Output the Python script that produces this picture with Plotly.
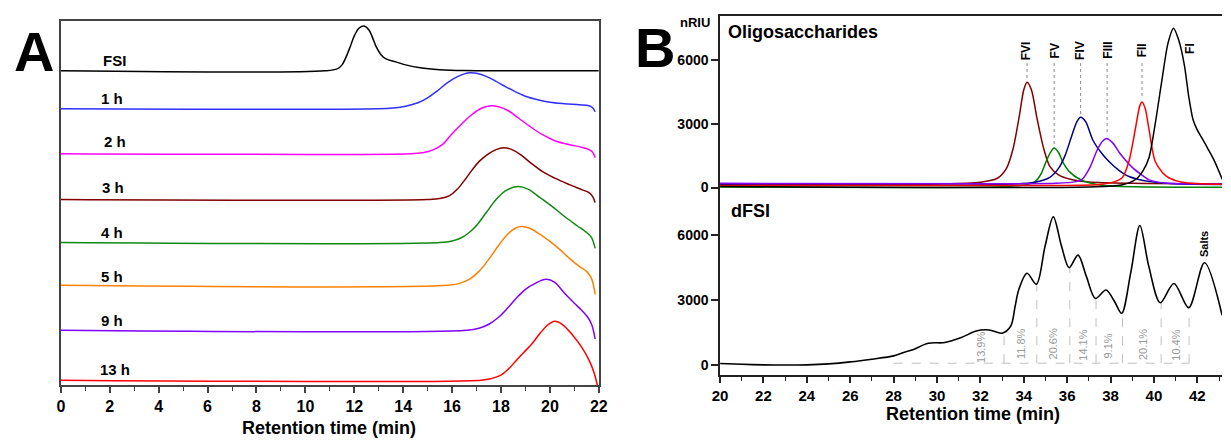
import numpy as np
import plotly.graph_objects as go

FONT = "Liberation Sans, Arial, sans-serif"

# ---------------- Panel A data (retention time, relative signal) ----------------
a_labels = ["FSI", "1 h", "2 h", "3 h", "4 h", "5 h", "9 h", "13 h"]
a_colors = ["#000000", "#2f2fff", "#ff00ff", "#800000", "#118811", "#ff8000", "#8000ff", "#ff0000"]
a_offsets = [315, 277, 232, 186, 143, 100, 55, 5]

a_t = [
    [0, 10.8, 11.3, 11.5, 11.8, 12.0, 12.2, 12.4, 12.6, 12.8, 12.9, 13.1, 13.3, 13.7, 14.1, 14.7, 15.5, 16.5, 22],
    [0, 13.0, 13.6, 14.1, 14.6, 15.0, 15.4, 15.8, 16.2, 16.5, 16.75, 17.0, 17.4, 17.8, 18.2, 18.6, 19.0, 19.5, 20.0, 20.6, 21.2, 21.6, 21.75, 21.85],
    [0, 14.3, 14.8, 15.2, 15.6, 16.0, 16.4, 16.8, 17.2, 17.6, 17.9, 18.3, 18.7, 19.2, 19.7, 20.2, 20.8, 21.3, 21.6, 21.75, 21.85],
    [0, 15.0, 15.5, 15.9, 16.2, 16.5, 16.8, 17.1, 17.5, 17.8, 18.1, 18.4, 18.8, 19.2, 19.7, 20.2, 20.8, 21.3, 21.6, 21.75, 21.85],
    [0, 15.5, 16.0, 16.4, 16.7, 17.0, 17.4, 17.8, 18.2, 18.7, 19.1, 19.6, 20.1, 20.6, 21.1, 21.5, 21.7, 21.85],
    [0, 15.8, 16.3, 16.7, 17.1, 17.5, 17.9, 18.3, 18.6, 18.85, 19.2, 19.6, 20.0, 20.4, 20.8, 21.2, 21.5, 21.7, 21.85],
    [0, 16.6, 17.1, 17.5, 17.9, 18.3, 18.7, 19.0, 19.4, 19.85, 20.2, 20.6, 21.0, 21.3, 21.55, 21.72, 21.85],
    [0, 17.2, 17.6, 18.0, 18.3, 18.6, 18.9, 19.25, 19.6, 19.9, 20.2, 20.5, 20.9, 21.3, 21.6, 21.8, 21.95],
]
a_h = [
    [0, 0, 2, 6, 22, 35, 43, 45, 41, 30, 24, 16, 12, 9, 6, 3, 1.2, 0.4, 0],
    [0, 0, 0.8, 2.5, 6, 11, 18, 26, 32, 35, 36, 35.5, 32.5, 27.5, 22, 17, 12.5, 9, 6.5, 5, 4, 3, 1, -3],
    [0, 0, 1, 3.5, 9, 20, 30, 39, 45.5, 48, 47, 43, 36, 27, 19, 13, 9, 6.5, 4, 1.5, -4],
    [0, 0, 1, 4, 10, 19, 29, 38, 46, 50, 52, 50.5, 45, 37, 28, 21.5, 15, 10, 7, 3, -3],
    [0, 0, 1.5, 5, 10, 17, 30, 43, 52, 56, 53.5, 45, 36, 26, 17, 10, 5, -6],
    [0, 0, 2, 6, 14, 26, 40, 52, 57.5, 59, 57, 51, 44, 36, 27, 19, 14, 7, -9],
    [0, 0, 2, 6, 13, 23, 34, 41, 47, 51, 48, 37, 27, 20, 13, 5, -9],
    [0, 0, 1.5, 5, 11, 19, 27, 36, 47, 55, 59, 56, 46, 33, 20, 8, -6],
]
a_label_x = [2.2, 2.1, 2.2, 2.15, 2.1, 2.1, 2.1, 2.2]
a_label_y = [325, 287, 244, 198, 153, 109, 65, 16]

# ---------------- Panel B top: oligosaccharide fractions ----------------
frac_names = ["FVI", "FV", "FIV", "FIII", "FII", "FI"]
frac_colors = ["#800000", "#008000", "#000080", "#8000ff", "#ff0000", "#000000"]
frac_t = [
    [20, 30, 32, 32.8, 33.2, 33.5, 33.8, 34.0, 34.15, 34.35, 34.6, 34.9, 35.2, 35.6, 36.2, 37, 39, 43.2],
    [20, 33, 34.0, 34.5, 34.8, 35.0, 35.2, 35.4, 35.6, 35.8, 36.1, 36.6, 37.2, 38, 43.2],
    [20, 33, 34.5, 35.2, 35.6, 35.9, 36.2, 36.45, 36.62, 36.85, 37.2, 37.6, 37.95, 38.4, 38.85, 39.8, 41, 43.2],
    [20, 33, 35.5, 36.4, 36.7, 37.05, 37.4, 37.65, 37.84, 38.1, 38.4, 39.0, 39.5, 39.8, 40.5, 43.2],
    [20, 34, 37.5, 38.2, 38.55, 38.85, 39.15, 39.35, 39.45, 39.6, 39.76, 40.05, 40.4, 40.7, 41.3, 43.2],
    [20, 37, 38.5, 39.15, 39.5, 39.77, 40.05, 40.36, 40.65, 40.9, 41.15, 41.4, 41.6, 41.8, 42.0, 42.2, 42.5, 42.8, 43.15],
]
frac_v = [
    [180, 170, 250, 450, 900, 1800, 3400, 4600, 4950, 4600, 3300, 1900, 1000, 600, 380, 260, 200, 180],
    [30, 40, 120, 260, 650, 1150, 1600, 1860, 1650, 1200, 750, 380, 180, 80, 20],
    [130, 140, 250, 480, 900, 1500, 2400, 3100, 3300, 3100, 2200, 1600, 1200, 800, 520, 280, 180, 150],
    [200, 180, 200, 280, 400, 950, 1800, 2200, 2300, 2100, 1650, 950, 550, 350, 220, 170],
    [100, 100, 150, 280, 480, 1250, 2800, 3850, 4020, 3700, 2800, 1250, 700, 450, 250, 150],
    [50, 30, 120, 380, 800, 1400, 2950, 5000, 6800, 7490, 6900, 5770, 4300, 3200, 2700, 2350, 1800, 1220, 380],
]
frac_label_x = [34.12, 35.44, 36.62, 37.9, 39.45, 41.65]
frac_label_y = [6420, 6400, 6450, 6450, 6450, 6550]

# ---------------- Panel B bottom: dFSI ----------------
dfsi_t = [20, 21, 22, 23, 24, 25, 26, 27, 28, 28.5, 28.85, 29.6, 30.36, 31.12, 31.8, 32.4, 33.0, 33.4,
          33.6, 33.77, 34.15, 34.58, 34.98, 35.36, 35.74, 36.09, 36.5, 36.88, 37.3, 37.79, 38.17, 38.51,
          38.93, 39.35, 39.76, 40.29, 40.92, 41.6, 42.33, 43.14]
dfsi_v = [78, 40, 15, 5, 15, 60, 150, 277, 430, 600, 700, 1015, 1045, 1275, 1580, 1630, 1480, 1810,
          2720, 3500, 4250, 3740, 5500, 6860, 5500, 4510, 5090, 4120, 3090, 3480, 2970, 2400,
          4280, 6460, 4580, 2890, 3780, 2660, 4740, 2310]
cut_t = [33.09, 34.6, 36.12, 37.33, 38.55, 40.33, 41.62]
pct_labels = ["13.9%", "11.8%", "20.6%", "14.1%", "9.1%", "20.1%", "10.4%"]
pct_x = [32.06, 33.85, 35.36, 36.73, 37.9, 39.49, 41.0]
pct_y = [830, 1000, 970, 900, 880, 970, 930]
cut_base = 90
cut_start = 28.0

fig = go.Figure()

# Panel A traces
for lab, col, off, t, h in zip(a_labels, a_colors, a_offsets, a_t, a_h):
    fig.add_trace(go.Scatter(x=t, y=[off + v for v in h], mode="lines",
                             line=dict(color=col, width=1.5, shape="spline", smoothing=1.0),
                             xaxis="x", yaxis="y", showlegend=False, hoverinfo="skip"))

# Panel B top traces
for name, col, t, v in zip(frac_names, frac_colors, frac_t, frac_v):
    fig.add_trace(go.Scatter(x=t, y=v, mode="lines",
                             line=dict(color=col, width=1.5, shape="spline", smoothing=0.8),
                             xaxis="x2", yaxis="y2", showlegend=False, hoverinfo="skip"))

# dotted guide lines from labels to peaks (FVI..FII)
for i in range(5):
    pk = int(np.argmax(frac_v[i]))
    fig.add_trace(go.Scatter(x=[frac_t[i][pk], frac_t[i][pk]], y=[5850, frac_v[i][pk] + 150], mode="lines",
                             line=dict(color="#888888", width=1, dash="dot"),
                             xaxis="x2", yaxis="y2", showlegend=False, hoverinfo="skip"))

# Panel B bottom: dashed fraction cuts
fig.add_trace(go.Scatter(x=[cut_start, cut_t[-1]], y=[cut_base, cut_base], mode="lines",
                         line=dict(color="#c0c0c0", width=1, dash="dash"),
                         xaxis="x3", yaxis="y3", showlegend=False, hoverinfo="skip"))
for ct in cut_t:
    top = float(np.interp(ct, dfsi_t, dfsi_v))
    fig.add_trace(go.Scatter(x=[ct, ct], y=[cut_base, top], mode="lines",
                             line=dict(color="#c0c0c0", width=1, dash="dash"),
                             xaxis="x3", yaxis="y3", showlegend=False, hoverinfo="skip"))

fig.add_trace(go.Scatter(x=dfsi_t, y=dfsi_v, mode="lines",
                         line=dict(color="#000000", width=1.6, shape="spline", smoothing=0.9),
                         xaxis="x3", yaxis="y3", showlegend=False, hoverinfo="skip"))

# figure is drawn inside the page's default 8px body margin
OFF = 8
FW, FH = 1223, 432
def px(x): return (x - OFF) / FW
def py(y): return 1 - (y - OFF) / FH

axA_col = "#444444"
tickfontA = dict(family=FONT, size=16, color="#000000", weight="bold")
tickfontB = dict(family=FONT, size=15, color="#000000", weight="bold")

def pann(x, y, text, size, xanchor="center", **kw):
    return dict(x=px(x), y=py(y), xref="paper", yref="paper", text=text, showarrow=False,
                xanchor=xanchor, yanchor="middle", font=dict(family=FONT, size=size, color="#000000"), **kw)

annotations = []
# Panel A labels
for lab, lx, ly in zip(a_labels, a_label_x, a_label_y):
    annotations.append(dict(x=lx, y=ly, xref="x", yref="y", text="<b>%s</b>" % lab, showarrow=False,
                            xanchor="center", yanchor="middle",
                            font=dict(family=FONT, size=15, color="#000000")))
annotations.append(pann(26, 52, "<b>A</b>", 56))
annotations.append(pann(656, 48, "<b>B</b>", 56))
annotations.append(pann(697, 23, "<b>nRIU</b>", 13))
annotations.append(pann(728, 32, "<b>Oligosaccharides</b>", 18, xanchor="left"))
annotations.append(pann(731, 211, "<b>dFSI</b>", 18, xanchor="left"))
annotations.append(pann(325, 429, "<b>Retention time (min)</b>", 18))
annotations.append(pann(978, 415, "<b>Retention time (min)</b>", 18))
# fraction labels
for name, lx, ly in zip(frac_names, frac_label_x, frac_label_y):
    annotations.append(dict(x=lx, y=ly, xref="x2", yref="y2", text="<b>%s</b>" % name, showarrow=False,
                            xanchor="center", yanchor="middle", textangle=-90,
                            font=dict(family=FONT, size=12, color="#000000")))
# percentage labels
for lab, lx, ly in zip(pct_labels, pct_x, pct_y):
    annotations.append(dict(x=lx, y=ly, xref="x3", yref="y3", text=lab, showarrow=False,
                            xanchor="center", yanchor="middle", textangle=-90,
                            font=dict(family=FONT, size=11, color="#999999")))
annotations.append(dict(x=42.34, y=5590, xref="x3", yref="y3", text="<b>Salts</b>", showarrow=False,
                        xanchor="center", yanchor="middle", textangle=-90,
                        font=dict(family=FONT, size=11, color="#000000")))

xB_range = [20, 20 + (1231 - 722) / 22.0]

fig.update_layout(
    width=FW, height=FH,
    margin=dict(l=0, r=0, t=0, b=0),
    paper_bgcolor="white", plot_bgcolor="white",
    font=dict(family=FONT),
    showlegend=False,
    annotations=annotations,
    xaxis=dict(domain=[px(53.5), px(599)], range=[0, 22], anchor="y",
               showline=True, linecolor=axA_col, linewidth=2, mirror=True,
               ticks="outside", ticklen=6, tickwidth=1.5, tickcolor=axA_col,
               tickvals=list(range(0, 23, 2)), tickfont=tickfontA,
               minor=dict(dtick=1, ticks="outside", ticklen=3.5, tickwidth=1.2, tickcolor=axA_col),
               showgrid=False, zeroline=False),
    yaxis=dict(domain=[py(386), py(21)], range=[0, 365], anchor="x",
               showline=True, linecolor=axA_col, linewidth=2, mirror=True,
               showticklabels=False, ticks="", showgrid=False, zeroline=False),
    xaxis2=dict(domain=[px(722), 1.0], range=xB_range, anchor="y2", side="top",
                showline=True, linecolor="#222222", linewidth=1.5,
                showticklabels=False, ticks="", showgrid=False, zeroline=False),
    yaxis2=dict(domain=[py(195), py(16)], range=[-328, 8062], anchor="x2",
                showline=True, linecolor="#222222", linewidth=1.5,
                ticks="outside", ticklen=7, tickwidth=1.5, tickcolor="#222222",
                tickvals=[0, 3000, 6000], tickfont=dict(family=FONT, size=14, color="#000000", weight="bold"),
                showgrid=False, zeroline=False),
    xaxis3=dict(domain=[px(722), 1.0], range=xB_range, anchor="y3",
                showline=True, linecolor="#222222", linewidth=1.5,
                ticks="outside", ticklen=6, tickwidth=1.5, tickcolor="#222222",
                tickvals=list(range(20, 44, 2)), tickfont=tickfontB,
                minor=dict(dtick=1, ticks="outside", ticklen=4, tickwidth=1.2, tickcolor="#222222"),
                showgrid=False, zeroline=False),
    yaxis3=dict(domain=[py(376), py(195)], range=[-462, 7892], anchor="x3",
                showline=True, linecolor="#222222", linewidth=1.5,
                ticks="outside", ticklen=7, tickwidth=1.5, tickcolor="#222222",
                tickvals=[0, 3000, 6000], tickfont=dict(family=FONT, size=14, color="#000000", weight="bold"),
                showgrid=False, zeroline=False),
)

fig.write_html("out.html")
